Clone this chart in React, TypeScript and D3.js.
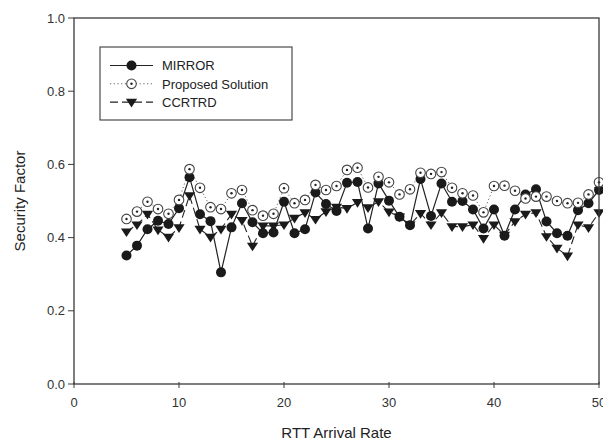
import React from "react";
import * as d3 from "d3";

// RTT arrival rates (x) from 5 to 50
const arrivalRates: number[] = [
  5, 6, 7, 8, 9, 10, 11, 12, 13, 14, 15, 16, 17, 18, 19, 20, 21, 22, 23, 24, 25, 26, 27,
  28, 29, 30, 31, 32, 33, 34, 35, 36, 37, 38, 39, 40, 41, 42, 43, 44, 45, 46, 47, 48, 49, 50,
];

const mirror: number[] = [
  0.351, 0.378, 0.423, 0.446, 0.437, 0.48, 0.565, 0.464, 0.445, 0.305, 0.428, 0.494,
  0.442, 0.412, 0.414, 0.498, 0.412, 0.423, 0.523, 0.492, 0.473, 0.55, 0.552, 0.425,
  0.548, 0.501, 0.457, 0.434, 0.56, 0.459, 0.548, 0.498, 0.5, 0.477, 0.425, 0.477,
  0.405, 0.477, 0.518, 0.532, 0.444, 0.412, 0.405, 0.475, 0.494, 0.53,
];

const proposed: number[] = [
  0.451, 0.471, 0.498, 0.478, 0.465, 0.503, 0.587, 0.536, 0.483, 0.478, 0.521, 0.53,
  0.475, 0.46, 0.465, 0.535, 0.494, 0.503, 0.544, 0.53, 0.541, 0.585, 0.591, 0.537,
  0.566, 0.551, 0.518, 0.532, 0.577, 0.574, 0.579, 0.536, 0.521, 0.515, 0.469, 0.541,
  0.542, 0.528, 0.507, 0.512, 0.512, 0.5, 0.494, 0.495, 0.518, 0.551,
];

const ccrtrd: number[] = [
  0.416, 0.435, 0.464, 0.421, 0.401, 0.427, 0.515, 0.423, 0.401, 0.423, 0.464, 0.447,
  0.377, 0.432, 0.432, 0.435, 0.453, 0.468, 0.45, 0.471, 0.483, 0.48, 0.496, 0.482,
  0.498, 0.47, 0.457, 0.435, 0.466, 0.435, 0.468, 0.43, 0.43, 0.435, 0.398, 0.435,
  0.407, 0.444, 0.464, 0.468, 0.403, 0.371, 0.35, 0.435, 0.427, 0.468,
];

const xTicks: number[] = [0, 10, 20, 30, 40, 50];
const yTicks: number[] = [0, 0.2, 0.4, 0.6, 0.8, 1.0];
const seriesNames: string[] = ["MIRROR", "Proposed Solution", "CCRTRD"];

const W = 603;
const H = 446;
const left = 74;
const right = 599;
const top = 18;
const bottom = 384;

const font = "Liberation Sans, Arial, sans-serif";
const axisColor = "#3a3a3a";

type Kind = "mirror" | "proposed" | "ccrtrd";

function Marker({ kind, cx, cy }: { kind: Kind; cx: number; cy: number }) {
  if (kind === "mirror") {
    return <circle cx={cx} cy={cy} r={5} fill="#1a1a1a" />;
  }
  if (kind === "proposed") {
    return (
      <g>
        <circle cx={cx} cy={cy} r={4.8} fill="#fff" stroke="#444" strokeWidth={1.1} />
        <circle cx={cx} cy={cy} r={1.2} fill="#222" />
      </g>
    );
  }
  const s = 5.6;
  const pts = [
    [cx - s, cy - s * 0.6],
    [cx + s, cy - s * 0.6],
    [cx, cy + s * 0.95],
  ]
    .map((p) => p.join(","))
    .join(" ");
  return <polygon points={pts} fill="#1a1a1a" />;
}

export default function App() {
  const x = d3.scaleLinear().domain([0, 50]).range([left, right]);
  const y = d3.scaleLinear().domain([0, 1]).range([bottom, top]);

  const line = d3
    .line<[number, number]>()
    .x((d) => x(d[0]))
    .y((d) => y(d[1]));

  const series: { kind: Kind; values: number[]; dash: string; stroke: string; width: number }[] = [
    { kind: "ccrtrd", values: ccrtrd, dash: "8,4", stroke: "#222", width: 1.1 },
    { kind: "mirror", values: mirror, dash: "", stroke: "#222", width: 1.2 },
    { kind: "proposed", values: proposed, dash: "1.2,2.5", stroke: "#666", width: 1 },
  ];

  const legendRows: { kind: Kind; dash: string; stroke: string }[] = [
    { kind: "mirror", dash: "", stroke: "#222" },
    { kind: "proposed", dash: "1.2,2.5", stroke: "#666" },
    { kind: "ccrtrd", dash: "8,4", stroke: "#222" },
  ];

  return (
    <svg
      width={W}
      height={H}
      style={{ position: "absolute", left: 0, top: 0, background: "#fff" }}
      fontFamily={font}
    >
      <rect width={W} height={H} fill="#fff" />

      {/* series lines */}
      {series.map((s) => (
        <path
          key={s.kind + "-line"}
          d={line(arrivalRates.map((r, i) => [r, s.values[i]] as [number, number])) || ""}
          fill="none"
          stroke={s.stroke}
          strokeWidth={s.width}
          strokeDasharray={s.dash || undefined}
        />
      ))}
      {/* series markers */}
      {series.map((s) => (
        <g key={s.kind + "-markers"}>
          {arrivalRates.map((r, i) => (
            <Marker key={i} kind={s.kind} cx={x(r)} cy={y(s.values[i])} />
          ))}
        </g>
      ))}

      {/* frame */}
      <rect
        x={left}
        y={top}
        width={right - left}
        height={bottom - top}
        fill="none"
        stroke={axisColor}
        strokeWidth={1.3}
      />

      {/* x axis ticks */}
      {xTicks.map((t) => (
        <g key={"x" + t}>
          <line x1={x(t)} x2={x(t)} y1={bottom - 2} y2={bottom + 4} stroke={axisColor} strokeWidth={1} />
          <text x={x(t)} y={bottom + 23} textAnchor="middle" fontSize={13} fill="#333">
            {t}
          </text>
        </g>
      ))}
      {/* y axis ticks */}
      {yTicks.map((t) => (
        <g key={"y" + t}>
          <line x1={left - 6} x2={left} y1={y(t)} y2={y(t)} stroke={axisColor} strokeWidth={1} />
          <text x={left - 9} y={y(t) + 4.5} textAnchor="end" fontSize={13} fill="#333">
            {t.toFixed(1)}
          </text>
        </g>
      ))}

      {/* axis titles */}
      <text x={(left + right) / 2} y={438} textAnchor="middle" fontSize={15} fill="#222">
        RTT Arrival Rate
      </text>
      <text
        transform={`translate(25,${(top + bottom) / 2}) rotate(-90)`}
        textAnchor="middle"
        fontSize={15}
        fill="#222"
      >
        Security Factor
      </text>

      {/* legend */}
      <g>
        <rect x={100} y={47} width={192} height={73} fill="#fff" stroke={axisColor} strokeWidth={1.1} />
        {legendRows.map((row, i) => {
          const cy = 65.5 + i * 18.3;
          return (
            <g key={row.kind}>
              <line
                x1={110}
                x2={153}
                y1={cy}
                y2={cy}
                stroke={row.stroke}
                strokeWidth={1.1}
                strokeDasharray={row.dash || undefined}
              />
              <Marker kind={row.kind} cx={131.5} cy={cy} />
              <text x={162} y={cy + 4.8} fontSize={13} fill="#222">
                {seriesNames[i]}
              </text>
            </g>
          );
        })}
      </g>
    </svg>
  );
}
